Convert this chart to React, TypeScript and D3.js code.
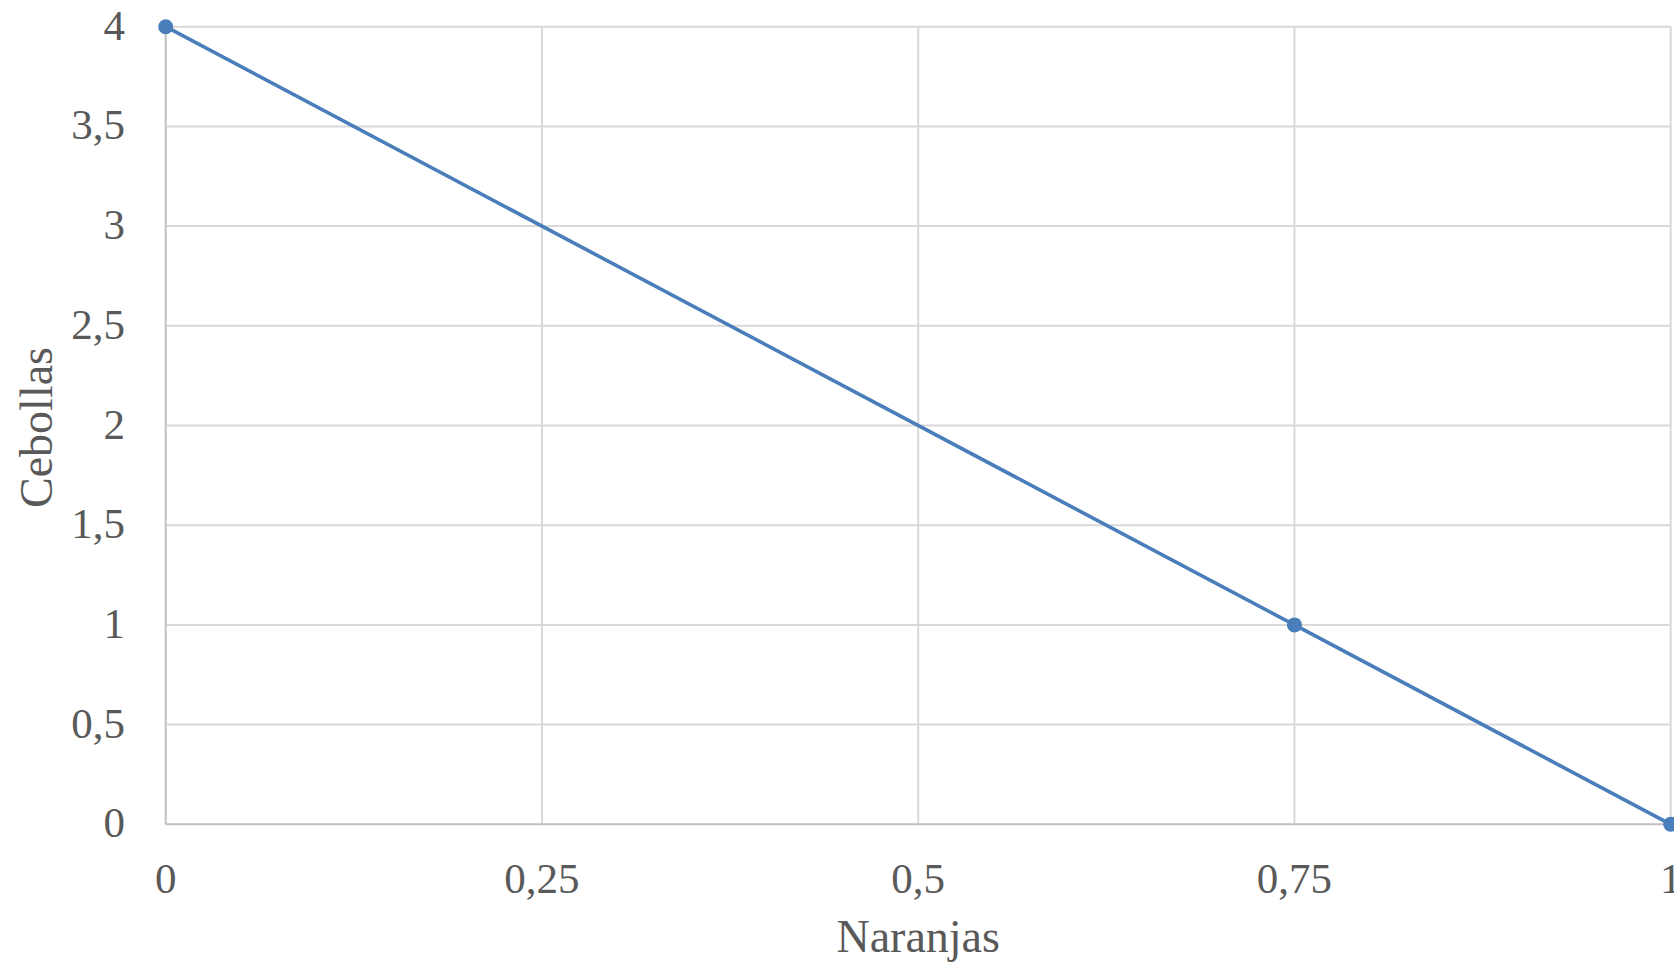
import React from "react";
import * as d3 from "d3";

const xValues = [0, 0.75, 1];
const yValues = [4, 1, 0];
const xTicks = [0, 0.25, 0.5, 0.75, 1];
const yTicks = [0, 0.5, 1, 1.5, 2, 2.5, 3, 3.5, 4];
const xTitle = "Naranjas";
const yTitle = "Cebollas";

const W = 1674;
const H = 962;
const left = 165.7;
const right = 1670.7;
const top = 26.7;
const bottom = 824.3;

const fmt = (v: number) => String(v).replace(".", ",");

export default function App() {
  const x = d3.scaleLinear().domain([0, 1]).range([left, right]);
  const y = d3.scaleLinear().domain([0, 4]).range([bottom, top]);
  const pts = xValues.map((v, i) => [v, yValues[i]] as [number, number]);
  const line = d3.line<[number, number]>().x((d) => x(d[0])).y((d) => y(d[1]));
  const font = "'Liberation Serif', 'Times New Roman', serif";
  return (
    <svg width={W} height={H} style={{ position: "absolute", left: 0, top: 0, background: "#fff" }}>
      {yTicks.filter((t) => t !== 0).map((t) => (
        <line key={"gy" + t} x1={left} x2={right} y1={y(t)} y2={y(t)} stroke="#d9d9d9" strokeWidth={2} />
      ))}
      {xTicks.filter((t) => t !== 0).map((t) => (
        <line key={"gx" + t} x1={x(t)} x2={x(t)} y1={top} y2={bottom} stroke="#d9d9d9" strokeWidth={2} />
      ))}
      <line x1={left} x2={left} y1={top} y2={bottom} stroke="#bfbfbf" strokeWidth={2} />
      <line x1={left} x2={right} y1={bottom} y2={bottom} stroke="#bfbfbf" strokeWidth={2} />
      <path d={line(pts) || ""} fill="none" stroke="#4a7ebb" strokeWidth={3.6} />
      {pts.map((p, i) => (
        <circle key={i} cx={x(p[0])} cy={y(p[1])} r={7.5} fill="#4a7ebb" />
      ))}
      {yTicks.map((t) => (
        <text key={"ty" + t} x={125} y={y(t) + 13} textAnchor="end" fontFamily={font} fontSize={43} fill="#595959">
          {fmt(t)}
        </text>
      ))}
      {xTicks.map((t) => (
        <text key={"tx" + t} x={x(t)} y={893} textAnchor="middle" fontFamily={font} fontSize={43} fill="#595959">
          {fmt(t)}
        </text>
      ))}
      <text x={(left + right) / 2} y={952} textAnchor="middle" fontFamily={font} fontSize={46} fill="#595959">
        {xTitle}
      </text>
      <text
        transform={`translate(52, ${(top + bottom) / 2 + 2}) rotate(-90)`}
        textAnchor="middle"
        fontFamily={font}
        fontSize={46}
        fill="#595959"
      >
        {yTitle}
      </text>
    </svg>
  );
}
